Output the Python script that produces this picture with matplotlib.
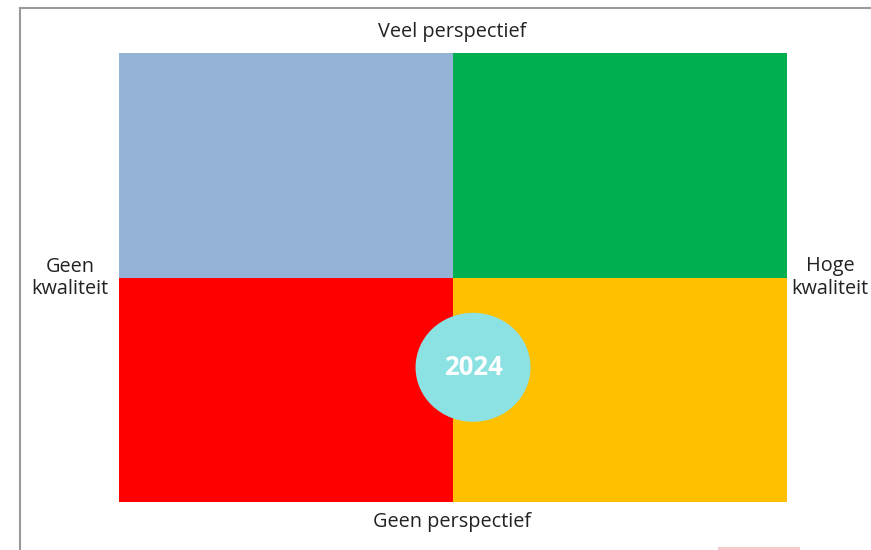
import matplotlib
matplotlib.use("Agg")
import matplotlib.pyplot as plt
from matplotlib.patches import Ellipse, Rectangle
from matplotlib.lines import Line2D

# Quadrant data (column, row) -> colour
quad_x = [0, 1, 0, 1]
quad_y = [1, 1, 0, 0]
quad_colors = ["#95B3D7", "#00B050", "#FF0000", "#FFC000"]

top_label = "Veel perspectief"
bottom_label = "Geen perspectief"
left_label = "Geen\nkwaliteit"
right_label = "Hoge\nkwaliteit"

marker_label = "2024"
marker_x = 1.06
marker_y = 0.60

FONT = ["Open Sans", "DejaVu Sans"]

fig = plt.figure(figsize=(8.71, 5.5), dpi=100)
fig.patch.set_facecolor("white")

# frame lines (top and left)
fig.add_artist(Line2D([20/871, 1], [1 - 8/550, 1 - 8/550], color="#9a9a9a", lw=1.5))
fig.add_artist(Line2D([20/871, 20/871], [0, 1 - 8/550], color="#9a9a9a", lw=1.5))
# faint pink mark at bottom
fig.add_artist(Rectangle((718/871, 0), 82/871, 3/550, color="#f8c8cc", lw=0))

ax = fig.add_axes([119/871, 1 - 502/550, (787 - 119)/871, (502 - 53)/550])
ax.bar(quad_x, [1]*4, width=1, bottom=quad_y, align="edge", color=quad_colors, linewidth=0)
ax.set_xlim(0, 2)
ax.set_ylim(0, 2)
ax.axis("off")

ax.add_patch(Ellipse((marker_x, marker_y), 115/334, 109/224.5, color="#8CE1E3", lw=0, zorder=5))
ax.text(marker_x, marker_y, marker_label, ha="center", va="center", color="white",
        fontsize=18.5, fontweight="bold", family=FONT, zorder=6)

fs = 14.3
fig.text(452/871, 1 - 32/550, top_label, ha="center", va="center", fontsize=fs, family=FONT, color="#222222")
fig.text(452/871, 1 - 522/550, bottom_label, ha="center", va="center", fontsize=fs, family=FONT, color="#222222")
fig.text(70/871, 1 - 278/550, left_label, ha="center", va="center", fontsize=fs, family=FONT,
         color="#222222", linespacing=1.2)
fig.text(830/871, 1 - 278/550, right_label, ha="center", va="center", fontsize=fs, family=FONT,
         color="#222222", linespacing=1.2)

fig.savefig("out.png", dpi=100, facecolor="white")
